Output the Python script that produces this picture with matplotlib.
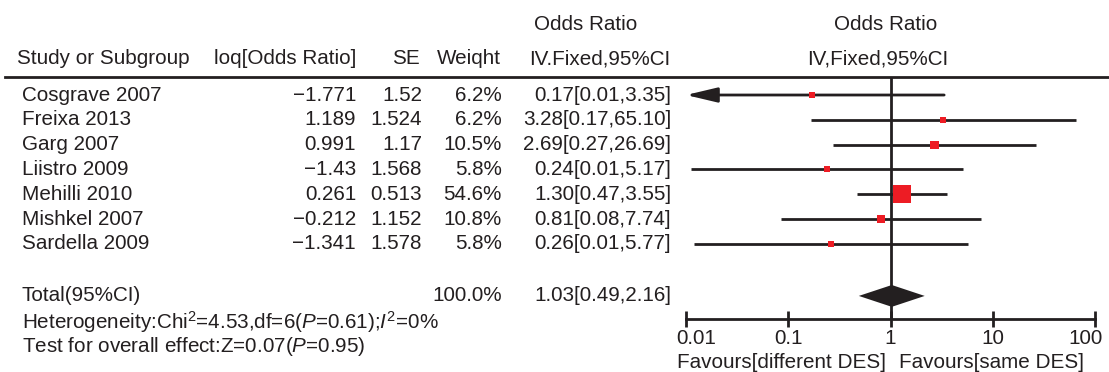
import matplotlib
matplotlib.use('Agg')
import matplotlib.pyplot as plt
import numpy as np
from matplotlib.lines import Line2D
from matplotlib.ticker import NullLocator
from matplotlib.transforms import blended_transform_factory, ScaledTranslation

# --- data ---
studies = ['Cosgrave 2007', 'Freixa 2013', 'Garg 2007', 'Liistro 2009',
           'Mehilli 2010', 'Mishkel 2007', 'Sardella 2009']
log_or = [-1.771, 1.189, 0.991, -1.43, 0.261, -0.212, -1.341]
se = [1.52, 1.524, 1.17, 1.568, 0.513, 1.152, 1.578]
weight = [6.2, 6.2, 10.5, 5.8, 54.6, 10.8, 5.8]
ci_text = ['0.17[0.01,3.35]', '3.28[0.17,65.10]', '2.69[0.27,26.69]',
           '0.24[0.01,5.17]', '1.30[0.47,3.55]', '0.81[0.08,7.74]',
           '0.26[0.01,5.77]']

total_or = 1.03
total_lo = 0.49
total_hi = 2.16
total_weight = 100.0
total_text = '1.03[0.49,2.16]'

ticks = [0.01, 0.1, 1, 10, 100]
tick_labels = ['0.01', '0.1', '1', '10', '100']

plt.rcParams['font.family'] = ['Liberation Sans', 'DejaVu Sans']
plt.rcParams['mathtext.fontset'] = 'custom'
plt.rcParams['mathtext.rm'] = 'Liberation Sans'
plt.rcParams['mathtext.it'] = 'Liberation Sans:italic'

W, H = 1109, 372
fs = 14.9
dark = '#231f20'
red = '#ed1c24'


def fx(px):
    return px / W


def fy(py):
    return 1 - py / H


def num(v):
    return '{:g}'.format(v).replace('-', '\u2212')


fig = plt.figure(figsize=(W / 100, H / 100), dpi=100)

# forest panel
ax = fig.add_axes([fx(686), fy(319), fx(1095) - fx(686), fy(77) - fy(319)])
ax.set_xscale('log')
ax.set_xlim(0.01, 100)
ax.set_ylim(9.03, -0.726)
rows = np.arange(len(studies))
total_row = 8.1

for r, l, s in zip(rows, log_or, se):
    lo = np.exp(l - 1.96 * s)
    hi = np.exp(l + 1.96 * s)
    if lo < 0.01:
        ax.annotate('', xy=(0.01, r), xytext=(hi, r),
                    arrowprops=dict(arrowstyle='-|>,head_length=1.9,head_width=0.45',
                                    color=dark, lw=2, shrinkA=0, shrinkB=0,
                                    mutation_scale=10), annotation_clip=False)
    else:
        ax.hlines(r, lo, hi, color=dark, lw=2, zorder=2)

sizes = [(0.72 * 18.5) ** 2 * w / 54.6 for w in weight]
ax.scatter(np.exp(log_or), rows, marker='s', s=sizes, color=red,
           linewidths=0, zorder=3)

ax.fill([total_lo, total_or, total_hi, total_or],
        [total_row, total_row - 0.44, total_row, total_row + 0.44],
        color=dark, zorder=3, lw=0)

ax.axvline(1, color=dark, lw=2, zorder=1)

for side in ['top', 'left', 'right']:
    ax.spines[side].set_visible(False)
ax.spines['bottom'].set_linewidth(2)
ax.spines['bottom'].set_color(dark)
ax.set_yticks([])
ax.set_xticks(ticks)
ax.set_xticklabels(tick_labels)
ax.xaxis.set_minor_locator(NullLocator())
ax.tick_params(axis='x', direction='inout', length=12, width=2, pad=1,
               labelsize=fs, colors=dark)
ax.patch.set_visible(False)

# end labels sit a little inward, as in the reference
labels = ax.get_xticklabels()
labels[0].set_transform(labels[0].get_transform() + ScaledTranslation(0.1, 0, fig.dpi_scale_trans))
labels[-1].set_transform(labels[-1].get_transform() + ScaledTranslation(-0.1, 0, fig.dpi_scale_trans))

# table text
trow = blended_transform_factory(fig.transFigure, ax.transData)
for r, name, l, s, w, ci in zip(rows, studies, log_or, se, weight, ci_text):
    fig.text(fx(22), r, name, transform=trow, ha='left', va='center', fontsize=fs, color=dark)
    fig.text(fx(356), r, num(l), transform=trow, ha='right', va='center', fontsize=fs, color=dark)
    fig.text(fx(422), r, num(s), transform=trow, ha='right', va='center', fontsize=fs, color=dark)
    fig.text(fx(502), r, '{:.1f}%'.format(w), transform=trow, ha='right', va='center', fontsize=fs, color=dark)
    fig.text(fx(671), r, ci, transform=trow, ha='right', va='center', fontsize=fs, color=dark)

fig.text(fx(22), total_row, 'Total(95%CI)', transform=trow, ha='left', va='center', fontsize=fs, color=dark)
fig.text(fx(502), total_row, '{:.1f}%'.format(total_weight), transform=trow, ha='right', va='center', fontsize=fs, color=dark)
fig.text(fx(671), total_row, total_text, transform=trow, ha='right', va='center', fontsize=fs, color=dark)

# headers
hy1, hy2 = fy(24), fy(59)
fig.text(fx(586), hy1, 'Odds Ratio', ha='center', va='center', fontsize=fs, color=dark)
fig.text(fx(886), hy1, 'Odds Ratio', ha='center', va='center', fontsize=fs, color=dark)
fig.text(fx(17), hy2, 'Study or Subgroup', ha='left', va='center', fontsize=fs, color=dark)
fig.text(fx(356), hy2, 'loq[Odds Ratio]', ha='right', va='center', fontsize=fs, color=dark)
fig.text(fx(420), hy2, 'SE', ha='right', va='center', fontsize=fs, color=dark)
fig.text(fx(501), hy2, 'Weiqht', ha='right', va='center', fontsize=fs, color=dark)
fig.text(fx(600), hy2, 'IV.Fixed,95%CI', ha='center', va='center', fontsize=fs, color=dark)
fig.text(fx(878), hy2, 'IV,Fixed,95%CI', ha='center', va='center', fontsize=fs, color=dark)

fig.add_artist(Line2D([fx(5), 1], [fy(77), fy(77)], transform=fig.transFigure,
                      color=dark, lw=2))

# footer
fig.text(fx(22), fy(329), r'Heterogeneity:Chi$^2$=4.53,df=6($\mathit{P}$=0.61);$\mathit{I}^2$=0%',
         ha='left', va='baseline', fontsize=fs, color=dark)
fig.text(fx(22), fy(352), r'Test for overall effect:Z=0.07($\mathit{P}$=0.95)',
         ha='left', va='baseline', fontsize=fs, color=dark)
fig.text(fx(886), fy(363), 'Favours[different DES]', ha='right', va='center', fontsize=fs, color=dark)
fig.text(fx(899), fy(363), 'Favours[same DES]', ha='left', va='center', fontsize=fs, color=dark)

fig.savefig('out.png', dpi=100, facecolor='white')
